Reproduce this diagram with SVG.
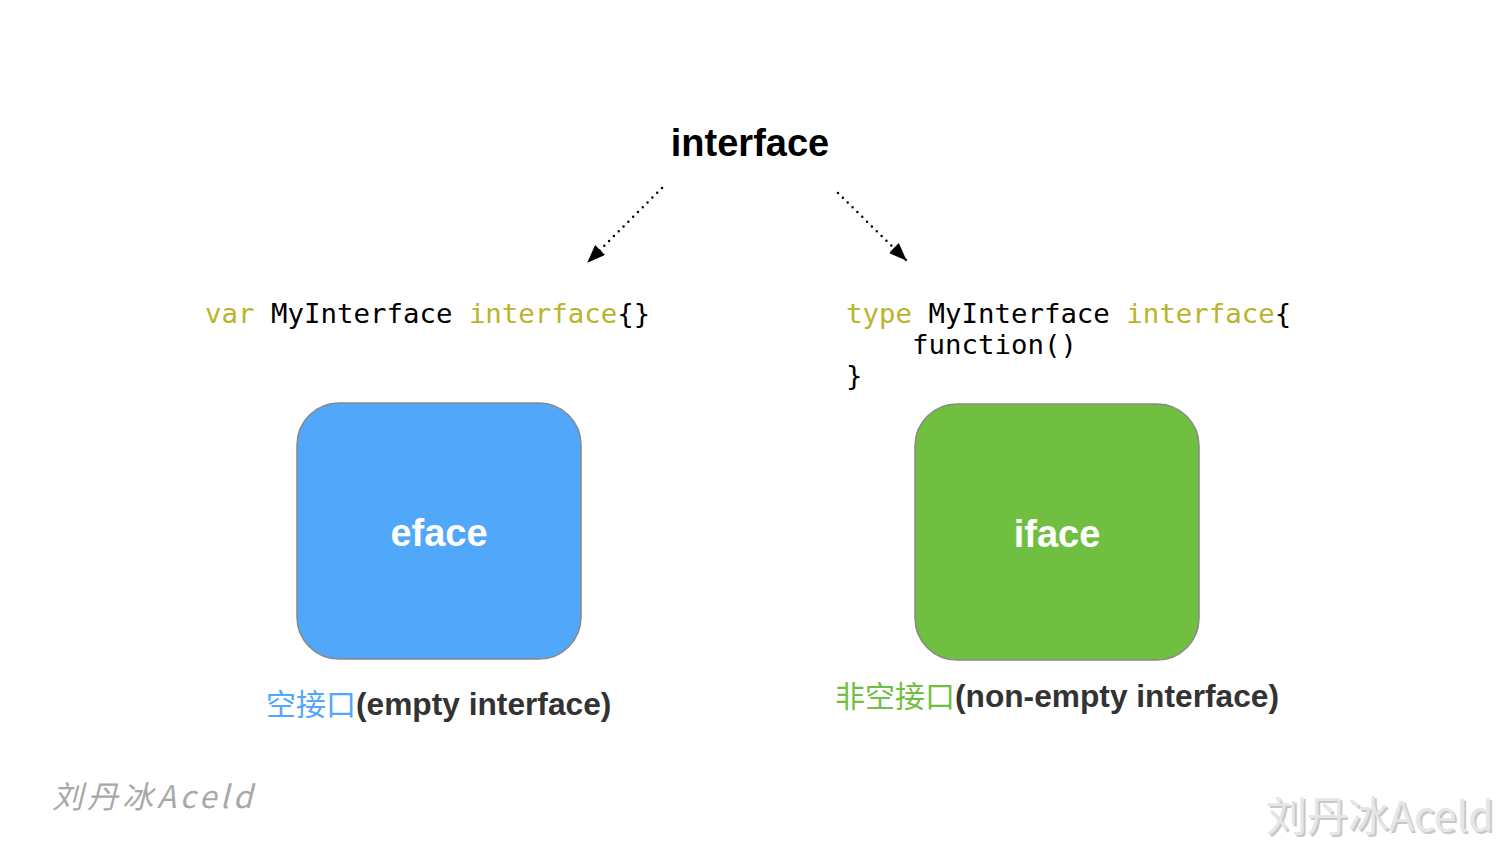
<svg xmlns="http://www.w3.org/2000/svg" width="1500" height="844" viewBox="0 0 1500 844">
<defs>
<style>
.title{font-family:"Liberation Sans",Arial,sans-serif;font-weight:bold;font-size:38px;fill:#000;text-anchor:middle}
.code{font-family:"DejaVu Sans Mono",monospace;font-size:27.4px;fill:#000}
.kw{fill:#b9b42c}
.box{stroke:#888;stroke-width:1.5}
.boxtext{font-family:"Liberation Sans",Arial,sans-serif;font-weight:bold;font-size:38px;fill:#fff;text-anchor:middle}
.lbl{font-family:"Liberation Sans","Noto Sans CJK SC",sans-serif;font-weight:bold;font-size:31.7px;fill:#333}
.cjk{font-family:"Noto Sans CJK SC",sans-serif;font-weight:normal;font-size:30px}
.conn{stroke:#000;stroke-width:2.5;stroke-dasharray:0 6.8;stroke-linecap:round;fill:none}
</style>
<marker id="ah" markerWidth="18" markerHeight="14" refX="17" refY="7" orient="auto" markerUnits="userSpaceOnUse">
<path d="M0,0 L18,7 L0,14 Z" fill="#000"/>
</marker>
</defs>
<rect width="1500" height="844" fill="#fff"/>
<g id="title">
<text class="title" x="750" y="156">interface</text>
</g>
<g id="connectors">
<line class="conn" x1="662" y1="188" x2="588" y2="262" marker-end="url(#ah)"/>
<line class="conn" x1="838" y1="193" x2="906" y2="260" marker-end="url(#ah)"/>
</g>
<g id="code-empty">
<text class="code" x="205" y="323" xml:space="preserve"><tspan class="kw">var</tspan> MyInterface <tspan class="kw">interface</tspan>{}</text>
</g>
<g id="code-nonempty">
<text class="code" x="846" y="323" xml:space="preserve"><tspan class="kw">type</tspan> MyInterface <tspan class="kw">interface</tspan>{</text>
<text class="code" x="912" y="354">function()</text>
<text class="code" x="846" y="385">}</text>
</g>
<g id="eface">
<rect class="box" x="297" y="403" width="284" height="256" rx="42" fill="#51a7f9"/>
<text class="boxtext" x="439" y="546">eface</text>
</g>
<g id="iface">
<rect class="box" x="915" y="404" width="284" height="256" rx="42" fill="#70bf41"/>
<text class="boxtext" x="1057" y="547">iface</text>
</g>
<g id="label-empty">
<text class="lbl" x="266" y="715"><tspan class="cjk" fill="#51a7f9">空接口</tspan>(empty interface)</text>
</g>
<g id="label-nonempty">
<text class="lbl" x="835" y="707"><tspan class="cjk" fill="#70bf41">非空接口</tspan>(non-empty interface)</text>
</g>
<g id="watermark-left">
<text x="52" y="808" font-family="'Noto Sans CJK SC',sans-serif" font-size="31" font-style="italic" letter-spacing="4" fill="#a8a8a8">刘丹冰Aceld</text>
</g>
<g id="watermark-right">
<text x="1268" y="833" font-family="'Noto Sans CJK SC',sans-serif" font-size="41" fill="#c8c8c8">刘丹冰Aceld</text>
<text x="1266" y="831" font-family="'Noto Sans CJK SC',sans-serif" font-size="41" fill="#e6e6e6">刘丹冰Aceld</text>
</g>
</svg>
